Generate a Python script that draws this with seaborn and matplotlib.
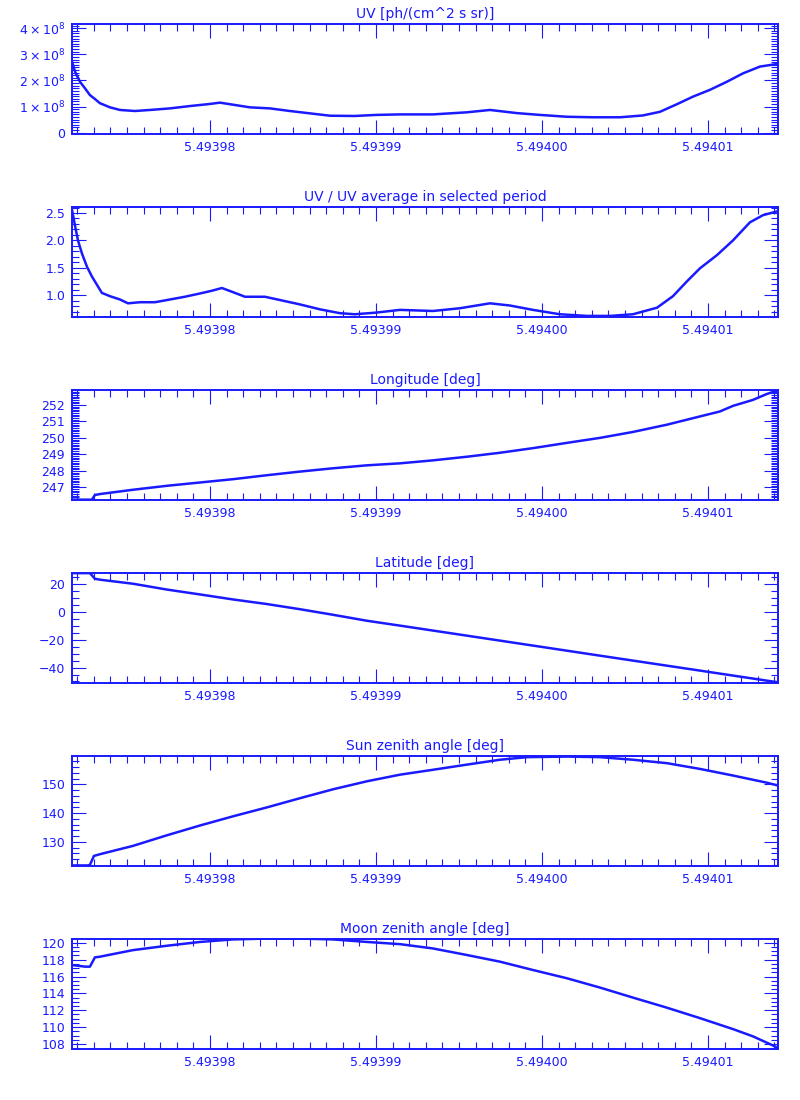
import numpy as np
import pandas as pd
import matplotlib
matplotlib.use("Agg")
import matplotlib.pyplot as plt
from matplotlib.ticker import MultipleLocator, FixedLocator
import seaborn as sns

# x axis: offsets in units of 1e-5 from 5.49398
BASE = 5.49398
SCALE = 1e-5
x_lim = (-0.831, 3.422)
x_ticks = [5.49398, 5.49399, 5.49400, 5.49401]
x_tick_labels = ["5.49398", "5.49399", "5.49400", "5.49401"]

# UV [1e8 ph/(cm^2 s sr)]
uv_t = [-0.831, -0.813, -0.783, -0.753, -0.723, -0.693, -0.663, -0.602, -0.542, -0.452,
        -0.361, -0.241, -0.120, 0.0, 0.060, 0.151, 0.241, 0.361, 0.482, 0.602,
        0.723, 0.873, 1.0, 1.145, 1.343, 1.548, 1.687, 1.849, 1.988, 2.151,
        2.307, 2.470, 2.608, 2.711, 2.813, 2.910, 3.012, 3.114, 3.211, 3.313, 3.416]
uv_val = [2.72, 2.34, 1.95, 1.70, 1.44, 1.29, 1.13, 0.97, 0.87, 0.83,
          0.87, 0.93, 1.02, 1.10, 1.15, 1.06, 0.97, 0.93, 0.83, 0.74,
          0.65, 0.64, 0.68, 0.70, 0.70, 0.78, 0.87, 0.75, 0.68, 0.61,
          0.59, 0.59, 0.66, 0.80, 1.09, 1.38, 1.64, 1.95, 2.27, 2.53, 2.63]

# UV / UV average
ratio_t = [-0.831, -0.813, -0.795, -0.771, -0.741, -0.711, -0.681, -0.651, -0.602, -0.542,
           -0.494, -0.422, -0.331, -0.241, -0.151, -0.060, 0.012, 0.072, 0.151, 0.211,
           0.331, 0.422, 0.542, 0.663, 0.783, 0.873, 1.0, 1.145, 1.343, 1.506,
           1.687, 1.807, 1.946, 2.108, 2.271, 2.410, 2.548, 2.693, 2.789, 2.873,
           2.952, 3.054, 3.151, 3.253, 3.331, 3.416]
ratio_val = [2.56, 2.27, 2.00, 1.76, 1.52, 1.34, 1.19, 1.04, 0.98, 0.92,
             0.85, 0.87, 0.87, 0.92, 0.97, 1.03, 1.08, 1.13, 1.04, 0.97,
             0.97, 0.91, 0.83, 0.74, 0.67, 0.65, 0.68, 0.73, 0.71, 0.76,
             0.85, 0.81, 0.73, 0.65, 0.62, 0.62, 0.65, 0.77, 0.98, 1.25,
             1.49, 1.73, 2.00, 2.33, 2.46, 2.53]

# Longitude [deg]
lon_t = [-0.831, -0.711, -0.693, -0.663, -0.464, -0.259, -0.060, 0.139, 0.343, 0.542,
         0.741, 0.946, 1.145, 1.343, 1.548, 1.747, 1.946, 2.151, 2.349, 2.548,
         2.753, 2.952, 3.072, 3.151, 3.271, 3.355, 3.416]
lon_val = [246.26, 246.26, 246.54, 246.60, 246.86, 247.10, 247.30, 247.50, 247.74, 247.96,
           248.16, 248.34, 248.46, 248.64, 248.86, 249.10, 249.38, 249.70, 250.00, 250.36,
           250.80, 251.30, 251.60, 251.94, 252.30, 252.66, 252.86]

# Latitude [deg]
lat_t = [-0.831, -0.723, -0.693, -0.663, -0.464, -0.259, -0.060, 0.139, 0.343, 0.542,
         0.741, 0.946, 1.145, 1.548, 2.0, 2.452, 2.952, 3.416]
lat_val = [27.8, 27.8, 23.8, 23.1, 20.2, 16.0, 12.5, 8.9, 5.6, 1.9,
           -2.1, -6.4, -9.9, -17.1, -25.2, -33.3, -42.2, -50.5]

# Sun zenith angle [deg]
sun_t = [-0.831, -0.735, -0.723, -0.699, -0.663, -0.464, -0.259, -0.060, 0.139, 0.343,
         0.542, 0.741, 0.946, 1.145, 1.343, 1.548, 1.747, 1.910, 2.151, 2.349,
         2.548, 2.753, 2.952, 3.151, 3.355, 3.416]
sun_val = [121.8, 121.8, 122.0, 125.1, 125.7, 128.6, 132.3, 135.7, 138.9, 142.0,
           145.2, 148.3, 151.1, 153.4, 155.1, 156.9, 158.6, 159.5, 159.7, 159.5,
           158.6, 157.4, 155.4, 153.1, 150.6, 149.7]

# Moon zenith angle [deg]
moon_t = [-0.831, -0.753, -0.723, -0.693, -0.663, -0.464, -0.259, -0.060, 0.139, 0.343,
          0.542, 0.741, 0.946, 1.145, 1.343, 1.548, 1.747, 1.946, 2.151, 2.349,
          2.548, 2.753, 2.952, 3.151, 3.271, 3.416]
moon_val = [117.36, 117.17, 117.17, 118.27, 118.35, 119.13, 119.65, 120.10, 120.40, 120.50,
            120.50, 120.40, 120.10, 119.84, 119.33, 118.55, 117.76, 116.77, 115.79, 114.69,
            113.50, 112.30, 111.06, 109.76, 108.90, 107.60]

titles = ["UV [ph/(cm^2 s sr)]", "UV / UV average in selected period", "Longitude [deg]",
          "Latitude [deg]", "Sun zenith angle [deg]", "Moon zenith angle [deg]"]

BLUE = "#1a1aff"

sns.set_theme(style="white")
plt.rcParams['font.family'] = ['DejaVu Sans']
plt.rcParams['axes.edgecolor'] = BLUE
plt.rcParams['text.color'] = BLUE
plt.rcParams['xtick.color'] = BLUE
plt.rcParams['ytick.color'] = BLUE

panels = [
    (uv_t, [v * 1e8 for v in uv_val], (-0.05e8, 4.16e8), [0, 1e8, 2e8, 3e8, 4e8],
     ["0", r"$1\times10^8$", r"$2\times10^8$", r"$3\times10^8$", r"$4\times10^8$"], 0.1e8),
    (ratio_t, ratio_val, (0.6, 2.61), [1.0, 1.5, 2.0, 2.5], ["1.0", "1.5", "2.0", "2.5"], 0.1),
    (lon_t, lon_val, (246.24, 252.9), [247, 248, 249, 250, 251, 252],
     ["247", "248", "249", "250", "251", "252"], 0.1),
    (lat_t, lat_val, (-51.1, 27.9), [-40, -20, 0, 20], ["\u221240", "\u221220", "0", "20"], 5),
    (sun_t, sun_val, (121.6, 159.9), [130, 140, 150], ["130", "140", "150"], 2),
    (moon_t, moon_val, (107.4, 120.45), [108, 110, 112, 114, 116, 118, 120],
     ["108", "110", "112", "114", "116", "118", "120"], 0.5),
]

fig = plt.figure(figsize=(8, 11), dpi=100)

for i, (t, vals, ylim, yt, ytl, yminor) in enumerate(panels):
    bottom = (1100 - 134 - 183 * i) / 1100
    ax = fig.add_axes([72 / 800, bottom, 706 / 800, 110 / 1100])
    df = pd.DataFrame({"x": [BASE + v * SCALE for v in t], "y": vals})
    sns.lineplot(data=df, x="x", y="y", ax=ax, color=BLUE, linewidth=1.8,
                 estimator=None, sort=False)
    ax.set_xlim(BASE + x_lim[0] * SCALE, BASE + x_lim[1] * SCALE)
    ax.set_ylim(*ylim)
    ax.xaxis.set_major_locator(FixedLocator(x_ticks))
    ax.set_xticklabels(x_tick_labels)
    ax.xaxis.set_minor_locator(MultipleLocator(0.1 * SCALE))
    ax.yaxis.set_major_locator(FixedLocator(yt))
    ax.set_yticklabels(ytl)
    ax.yaxis.set_minor_locator(MultipleLocator(yminor))
    ax.tick_params(which="both", direction="in", top=True, right=True,
                   bottom=True, left=True, colors=BLUE, labelsize=9, width=0.8)
    ax.tick_params(which="major", length=10, pad=5)
    ax.tick_params(which="minor", length=5)
    for s in ax.spines.values():
        s.set_linewidth(1.4)
        s.set_color(BLUE)
    ax.set_xlabel("")
    ax.set_ylabel("")
    ax.set_title(titles[i], fontsize=10, color=BLUE, pad=4)

fig.savefig("out.png", dpi=100)
